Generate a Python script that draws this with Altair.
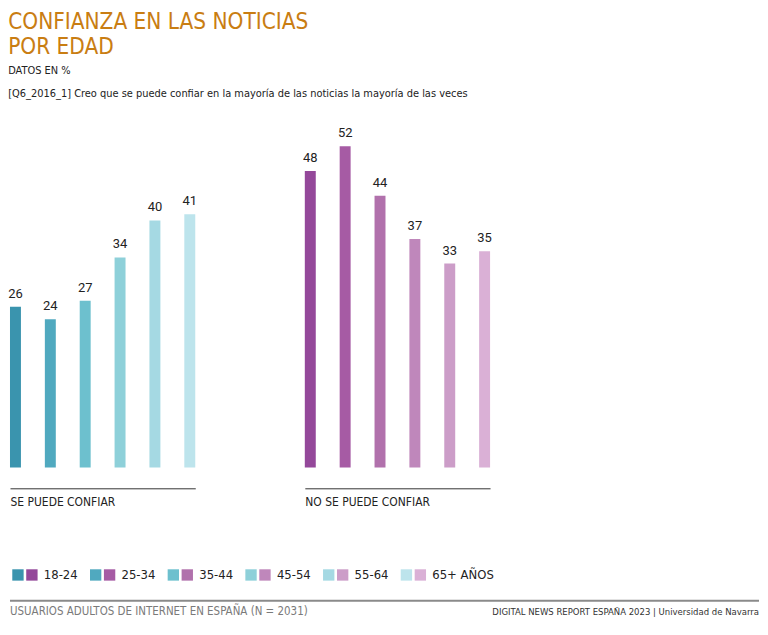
import altair as alt
import pandas as pd

ages = ["18-24", "25-34", "35-44", "45-54", "55-64", "65+"]
legend_labels = ["18-24", "25-34", "35-44", "45-54", "55-64", "65+ AÑOS"]
groups = ["SE PUEDE CONFIAR", "NO SE PUEDE CONFIAR"]
trust_values = [26, 24, 27, 34, 40, 41]
distrust_values = [48, 52, 44, 37, 33, 35]
teal_colors = ["#3A94AE", "#50A9BF", "#6DC0CE", "#8ED0D9", "#A5D9E3", "#BDE4EC"]
purple_colors = ["#94489A", "#A65BA4", "#B171AC", "#BF87BB", "#CC9DC8", "#DAB0D6"]

title_lines = ["CONFIANZA EN LAS NOTICIAS", "POR EDAD"]
subtitle_lines = ["DATOS EN %", "[Q6_2016_1] Creo que se puede confiar en la mayoría de las noticias la mayoría de las veces"]
footer_left = "USUARIOS ADULTOS DE INTERNET EN ESPAÑA (N = 2031)"
footer_right = "DIGITAL NEWS REPORT ESPAÑA 2023 | Universidad de Navarra"

NARROW = "DejaVu Sans Condensed, Liberation Sans Narrow, sans-serif"


def panel(group, values, colors):
    df = pd.DataFrame({"age": ages, "value": values, "color": colors})
    x = alt.X("age:N", sort=ages,
              scale=alt.Scale(paddingInner=0.686, paddingOuter=0),
              axis=alt.Axis(labels=False, ticks=False, domain=True, domainColor="#333333",
                            domainWidth=1, offset=21, title=group, titleAnchor="start",
                            titleAlign="left", titleFont=NARROW, titleFontSize=12,
                            titleFontWeight="normal", titleColor="#222222", titlePadding=8))
    y = alt.Y("value:Q", scale=alt.Scale(domain=[0, 55]), axis=None)
    bars = alt.Chart(df).mark_bar().encode(x=x, y=y, color=alt.Color("color:N", scale=None))
    labels = alt.Chart(df).mark_text(baseline="bottom", dy=-6, font="Roboto", fontSize=13,
                                     color="#222222").encode(x=x, y=y, text="value:Q")
    return (bars + labels).properties(width=186, height=341)


left = panel(groups[0], trust_values, teal_colors)
right = panel(groups[1], distrust_values, purple_colors)
bars_row = alt.hconcat(left, right, spacing=106)

leg_df = pd.DataFrame({"age": ages, "label": legend_labels, "teal": teal_colors, "purple": purple_colors})
lx = alt.X("age:N", sort=ages, scale=alt.Scale(paddingInner=0, paddingOuter=0), axis=None)
leg_base = alt.Chart(leg_df)
LY = 52
leg = alt.layer(
    leg_base.mark_square(size=130, opacity=1).encode(x=lx, xOffset=alt.value(-31), y=alt.value(LY),
                                                   color=alt.Color("teal:N", scale=None)),
    leg_base.mark_square(size=130, opacity=1).encode(x=lx, xOffset=alt.value(-17), y=alt.value(LY),
                                                   color=alt.Color("purple:N", scale=None)),
    leg_base.mark_text(align="left", baseline="middle", dx=-5, font=NARROW, fontSize=13,
                       color="#222222").encode(x=lx, y=alt.value(LY), text="label:N"),
).properties(width=468, height=61)

foot_df = pd.DataFrame({"left": [footer_left], "right": [footer_right]})
fb = alt.Chart(foot_df)
footer = alt.layer(
    fb.mark_rule(color="#8a8a8a", strokeWidth=2).encode(x=alt.value(0), x2=alt.value(752), y=alt.value(0)),
    fb.mark_text(align="left", baseline="middle", font=NARROW, fontSize=11.5, color="#7a7a7a").encode(
        x=alt.value(0), y=alt.value(11), text="left:N"),
    fb.mark_text(align="right", baseline="middle", font=NARROW, fontSize=9.5, color="#333333").encode(
        x=alt.value(752), y=alt.value(11), text="right:N"),
).properties(width=752, height=20)

chart = alt.vconcat(bars_row, leg, footer, spacing=16).properties(
    title=alt.TitleParams(text=title_lines, subtitle=subtitle_lines, anchor="start",
                          font=NARROW, fontSize=22.5, fontWeight="normal", color="#C97D12",
                          lineHeight=25, subtitleFont=NARROW, subtitleFontSize=11,
                          subtitleColor="#222222", subtitleLineHeight=24, subtitlePadding=6,
                          offset=28)
).configure(padding={"top": 2, "left": 0, "right": 0, "bottom": 0}).configure_view(stroke=None)

chart.save("out.html", embed_options={"renderer": "svg", "actions": False})
